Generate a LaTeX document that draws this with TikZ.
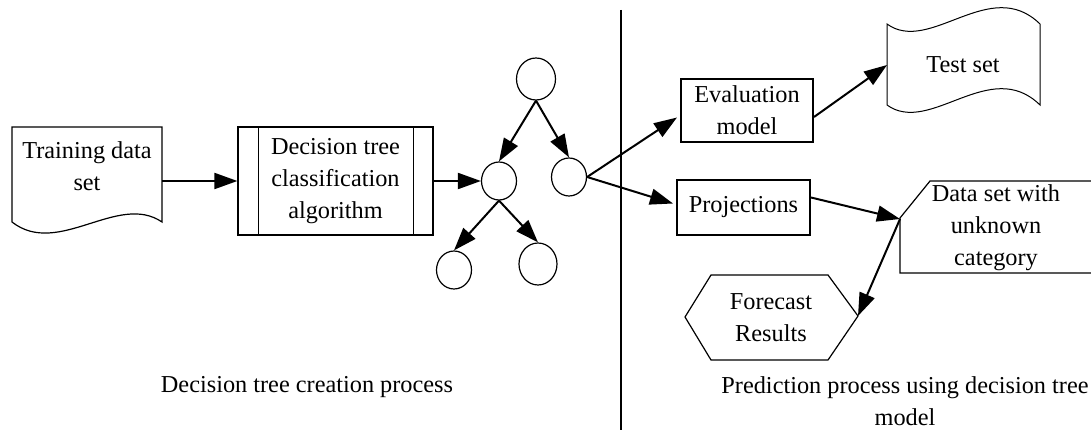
\documentclass[tikz,border=0pt]{standalone}
\usepackage{fontspec}
\setmainfont{Liberation Serif}
\usetikzlibrary{arrows.meta,shapes.geometric,calc}
\begin{document}
\begin{tikzpicture}[x=1pt,y=-1pt,
  every node/.style={font=\fontsize{24.3}{32}\selectfont, align=center, inner sep=0pt},
  thinline/.style={line width=1.2pt},
  arr/.style={line width=2pt, -{Triangle[length=23pt,width=16pt]}},
  circ/.style={draw, ellipse, line width=1.2pt, inner sep=0pt},
  box/.style={draw, rectangle, line width=2pt, inner sep=0pt},
]
\useasboundingbox (0,0) rectangle (1091,430);

% Training data set (document shape)
\draw[thinline] (12,127) -- (162,127) -- (162,222) .. controls (118,192) and (58,258) .. (12,222) -- cycle;
\node (train) at (87,166.5) {Training data\\set};
\coordinate (trainE) at (162,181);

% Decision tree classification algorithm (predefined process)
\node[draw, thinline, minimum width=195pt, minimum height=108pt] (dt) at (335.5,181) {Decision tree\\classification\\algorithm};
\draw[thinline] ([xshift=21pt]dt.north west) -- ([xshift=21pt]dt.south west);
\draw[thinline] ([xshift=-20pt]dt.north east) -- ([xshift=-20pt]dt.south east);

% tree circles
\node[circ, minimum width=39pt, minimum height=42pt] (c1) at (536,79) {};
\node[circ, minimum width=35pt, minimum height=38pt] (c2) at (499,181) {};
\node[circ, minimum width=35pt, minimum height=38pt] (c3) at (569,177) {};
\node[circ, minimum width=35pt, minimum height=38pt] (c4) at (454,270) {};
\node[circ, minimum width=38pt, minimum height=42pt] (c5) at (538,264) {};

\draw[arr] (trainE) -- (dt.west);
\draw[arr] (dt.east) -- (c2.west);
\draw[arr] (c1.south) -- (c2.north);
\draw[arr] (c1.south) -- (c3.north);
\draw[arr] (c2.south) -- (c4.north);
\draw[arr] (c2.south) -- (c5.north);

% divider
\coordinate (vtop) at (621,10);
\coordinate (vbot) at (621,430);
\draw[line width=2pt] (vtop) -- (vbot);

% Evaluation model
\node[box, minimum width=132pt, minimum height=63pt] (ev) at (747,110.5) {Evaluation\\model};
% Test set (tape)
\draw[line width=1pt] (887,24) .. controls (930,55) and (990,-25) .. (1040,24) -- (1040,105) .. controls (990,56) and (930,136) .. (887,105) -- cycle;
\node (ts) at (963,65) {Test set};
\coordinate (tsW) at (887,65);

% Projections
\node[box, minimum width=133pt, minimum height=55pt] (pj) at (743.5,207.5) {Projections};

% Data set with unknown category (card)
\draw[thinline] (1100,181) -- (930,181) -- (900,218) -- (900,273) -- (1100,273);
\node (ds) at (996,228) {Data set with\\unknown\\category};
\coordinate (dsC) at (900,219);

% Forecast Results (hexagon)
\draw[thinline] (685,317) -- (711,275) -- (828,275) -- (858,316) -- (828,360) -- (711,360) -- cycle;
\node (fr) at (771,317.5) {Forecast\\Results};
\coordinate (frE) at (858,316);

% connectors right side
\draw[arr] (c3.east) -- ([xshift=-3pt,yshift=-7pt]ev.west);
\draw[arr] (c3.east) -- ([xshift=-3pt,yshift=4pt]pj.west);
\draw[arr] ([yshift=-6.5pt]ev.east) -- (tsW);
\draw[arr] ([yshift=10pt]pj.east) -- (dsC);
\draw[arr] (dsC) -- (frE);

% captions
\node[anchor=base] (l1) at (307,392) {Decision tree creation process};
\node[anchor=base] (l2) at (905,393) {Prediction process using decision tree};
\node[anchor=base] (l3) at (905,425) {model};
\end{tikzpicture}
\end{document}
